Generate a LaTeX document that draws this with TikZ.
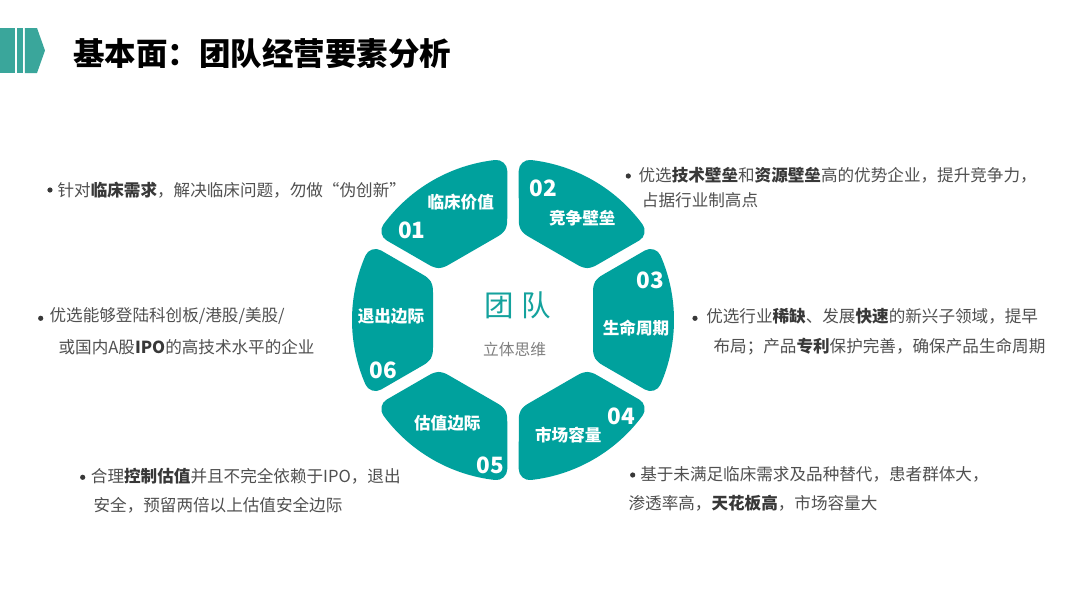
\documentclass[tikz,border=0pt]{standalone}
\usepackage{fontspec}
\setmainfont{Noto Sans CJK SC}
\usetikzlibrary{calc}
\definecolor{Ring}{HTML}{00A19D}
\definecolor{IconTeal}{HTML}{3AA69B}
\definecolor{TextDim}{HTML}{505050}
\definecolor{TextBold}{HTML}{383838}
\definecolor{CoreTeal}{HTML}{14A29D}
\definecolor{CoreDim}{HTML}{808080}
\newcommand{\hl}[1]{{\bfseries\color{TextBold}#1}}

\begin{document}
\begin{tikzpicture}[
    seg/.style={fill=Ring, draw=Ring, line width=0.55cm, line join=round},
    segtxt/.style={text=white, font=\fontsize{11.8}{14}\selectfont\bfseries, inner sep=0pt},
    segnum/.style={text=white, font=\fontsize{16}{18}\selectfont\bfseries, inner sep=0pt},
    desc/.style={anchor=west, inner sep=0pt, text=TextDim, font=\fontsize{11.8}{14}\selectfont},
    bulletdot/.style={circle, fill=TextBold, inner sep=0pt, minimum size=0.13cm}
]
    % Page
    \fill[white] (-12.825,-7.2) rectangle (14.175,8.0);

    % Title
    \fill[IconTeal] (-12.825,6.175) rectangle (-12.45,7.3);
    \fill[IconTeal] (-12.4,6.175) rectangle (-12.25,7.3);
    \fill[IconTeal] (-12.2,6.175) -- (-11.9,6.175) -- (-11.7,6.7375) -- (-11.9,7.3) -- (-12.2,7.3) -- cycle;
    \node[anchor=west, inner sep=0pt, font=\fontsize{22.4}{26}\selectfont\bfseries] (title) at (-11.0,6.675) {基本面：团队经营要素分析};

    % Ring segments (inset outline, widened by the round-joined stroke)
    \foreach \a in {0,60,...,300}
        \filldraw[seg] (\a-16.64:2.3745) .. controls (\a-20.05:2.4218) .. (\a-20.62:2.5698)
            -- (\a-23.59:3.75) arc[start angle=\a-23.59, end angle=\a+23.59, radius=3.75]
            -- (\a+20.62:2.5698) .. controls (\a+20.05:2.4218) .. (\a+16.64:2.3745) -- cycle;

    % Centre
    \node[text=CoreTeal, font=\fontsize{21}{24}\selectfont] (core) at (0.12,0.375) {团 队};
    \node[text=CoreDim, font=\fontsize{11.2}{13}\selectfont] (sub) at (0.04,-0.73) {立体思维};

    % Segment labels
    \node[segtxt] (s1) at (-1.3075,2.9575) {临床价值};
    \node[segnum] (n1) at (-2.5325,2.25) {01};
    \node[segtxt] (s2) at (1.7325,2.5425) {竞争壁垒};
    \node[segnum] (n2) at (0.7575,3.2925) {02};
    \node[segtxt] (s3) at (3.075,-0.2075) {生命周期};
    \node[segnum] (n3) at (3.425,1.0) {03};
    \node[segtxt] (s4) at (1.3825,-2.875) {市场容量};
    \node[segnum] (n4) at (2.7,-2.4175) {04};
    \node[segtxt] (s5) at (-1.6425,-2.5825) {估值边际};
    \node[segnum] (n5) at (-0.575,-3.625) {05};
    \node[segtxt] (s6) at (-3.05,0.0825) {退出边际};
    \node[segnum] (n6) at (-3.2425,-1.25) {06};

    % Descriptions
    \node[bulletdot] (b1) at (-11.575,3.25) {};
    \node[desc] (d1) at (-11.3925,3.25) {针对\hl{临床需求}，解决临床问题，勿做“伪创新”};

    \node[bulletdot] (b2) at (2.8825,3.6) {};
    \node[desc] (d2) at (3.1325,3.625) {优选\hl{技术壁垒}和\hl{资源壁垒}高的优势企业，提升竞争力，};
    \node[desc] (d2b) at (3.2175,3.0) {占据行业制高点};

    \node[bulletdot] (b3) at (-11.8075,0.0425) {};
    \node[desc] (d3) at (-11.5925,0.1) {优选能够登陆科创板/港股/美股/};
    \node[desc] (d3b) at (-11.3675,-0.6675) {或国内A股\hl{IPO}的高技术水平的企业};

    \node[bulletdot] (b4) at (4.55,0.0425) {};
    \node[desc] (d4) at (4.825,0.0825) {优选行业\hl{稀缺}、发展\hl{快速}的新兴子领域，提早};
    \node[desc] (d4b) at (5.0075,-0.6675) {布局；产品\hl{专利}保护完善，确保产品生命周期};

    \node[bulletdot] (b5) at (-10.7575,-3.9325) {};
    \node[desc] (d5) at (-10.5575,-3.9) {合理\hl{控制估值}并且不完全依赖于IPO，退出};
    \node[desc] (d5b) at (-10.4925,-4.625) {安全，预留两倍以上估值安全边际};

    \node[bulletdot] (b6) at (2.9925,-3.875) {};
    \node[desc] (d6) at (3.175,-3.85) {基于未满足临床需求及品种替代，患者群体大，};
    \node[desc] (d6b) at (2.8825,-4.5825) {渗透率高，\hl{天花板高}，市场容量大};
\end{tikzpicture}
\end{document}
